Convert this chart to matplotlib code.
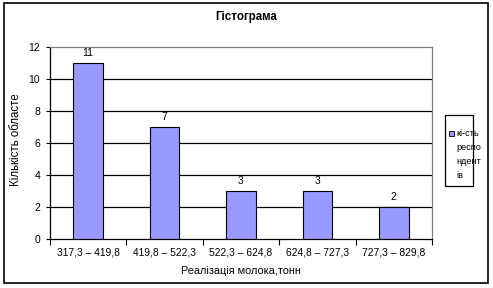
import matplotlib
matplotlib.use("Agg")
import matplotlib.pyplot as plt
from matplotlib.patches import Rectangle

categories = ["317,3 – 419,8", "419,8 – 522,3", "522,3 – 624,8", "624,8 – 727,3", "727,3 – 829,8"]
values = [11, 7, 3, 3, 2]
yticks = [0, 2, 4, 6, 8, 10, 12]

plt.rcParams['font.family'] = ['Liberation Sans', 'DejaVu Sans']
W, H = 493, 288
fig = plt.figure(figsize=(W/100, H/100), dpi=100)
fig.patch.set_facecolor('white')

# outer border
fig.patches.append(Rectangle((4/W, 1 - 283/H), (488-4)/W, (283-3)/H, transform=fig.transFigure,
                             fill=False, edgecolor='black', linewidth=1.2))

ax = fig.add_axes([50/W, 1 - 239/H, (432-50)/W, (239-47)/H])
x = list(range(len(categories)))
ax.bar(x, values, width=0.39, color='#9999FF', edgecolor='black', linewidth=0.8, zorder=3)
for xi, v in zip(x, values):
    ax.text(xi, v + 0.3, str(v), ha='center', va='bottom', fontsize=7.5)

ax.set_xlim(-0.5, len(categories) - 0.5)
ax.set_ylim(0, 12)
ax.set_yticks(yticks)
ax.set_yticklabels([str(t) for t in yticks], fontsize=7.5)
ax.set_xticks(x)
ax.set_xticklabels(categories, fontsize=7.4)
ax.set_xticks([i + 0.5 for i in range(-1, len(categories))], minor=True)
ax.tick_params(axis='x', which='major', length=0, pad=6)
ax.tick_params(axis='x', which='minor', length=4, width=0.8, direction='out')
ax.tick_params(axis='y', length=3, width=0.8, direction='out', pad=4)
for t in [2, 4, 6, 8, 10]:
    ax.axhline(t, color='black', linewidth=0.9, zorder=1)
ax.spines['top'].set_color('#808080')
ax.spines['right'].set_color('#808080')
ax.spines['left'].set_color('black')
ax.spines['bottom'].set_color('black')
for s in ax.spines.values():
    s.set_linewidth(0.9)

ax.set_xlabel("Реалізація молока,тонн", fontsize=7.8, labelpad=6)

fig.text(246/W, 1 - 17/H, "Гістограма", ha='center', va='center', fontsize=8.3, fontweight='bold')

ylab = fig.text(16/W, 1 - 186/H, "Кількість областей", rotation=90, ha='center', va='bottom', fontsize=8.3)
clip_box = Rectangle((0, 1 - 200/H), 40/W, (200-95)/H, transform=fig.transFigure)
ylab.set_clip_on(True)
ylab.set_clip_path(clip_box)

# legend box
fig.patches.append(Rectangle((445/W, 1 - 186/H), (473-445)/W, (186-115)/H, transform=fig.transFigure,
                             fill=False, edgecolor='black', linewidth=0.9))
fig.patches.append(Rectangle((449/W, 1 - 136/H), 5/W, 5/H, transform=fig.transFigure,
                             facecolor='#9999FF', edgecolor='black', linewidth=0.6))
fig.text(456/W, 1 - 129/H, "кі-сть\nреспо\nндент\nів", ha='left', va='top', fontsize=6.6, linespacing=1.7)

fig.savefig("out.png", dpi=100)
